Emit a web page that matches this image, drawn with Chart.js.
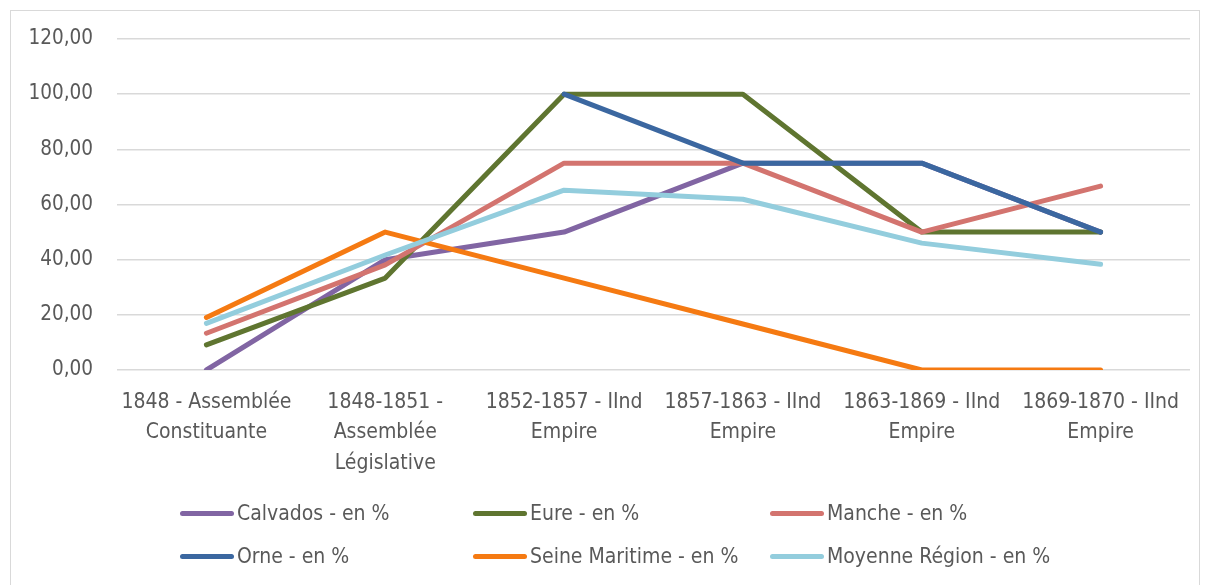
<!DOCTYPE html>
<html>
<head>
<meta charset="utf-8">
<script src="https://cdn.jsdelivr.net/npm/chart.js"></script>
<style>
  body { margin: 0; background: #fff; }
  #wrap { position: relative; width: 1209px; height: 585px; }
  #frame { position: absolute; left: 10px; top: 10px; width: 1190px; height: 580px; border: 1px solid #d9d9d9; box-sizing: border-box; }
  canvas { position: absolute; left: 0; top: 0; }
  #legend { position: absolute; left: 0; top: 0; width: 1209px; height: 585px; pointer-events: none;
    font-family: "Liberation Sans Narrow", "DejaVu Sans Condensed", sans-serif; font-size: 21px; color: #595959; }
  .item { position: absolute; display: flex; align-items: center; white-space: nowrap; }
  .swatch { width: 54px; height: 5px; border-radius: 3px; margin-right: 3px; }
</style>
</head>
<body>
<div id="wrap">
  <div id="frame"></div>
  <canvas id="chart" width="1209" height="585"></canvas>
  <div id="legend"></div>
</div>
<script>
document.addEventListener('DOMContentLoaded', function () {
    const categories = [
        ['1848 - Assemblée', 'Constituante'],
        ['1848-1851 -', 'Assemblée', 'Législative'],
        ['1852-1857 - IInd', 'Empire'],
        ['1857-1863 - IInd', 'Empire'],
        ['1863-1869 - IInd', 'Empire'],
        ['1869-1870 - IInd', 'Empire']
    ];

    const calvados = [0, 40, 50, 75, 75, 50];
    const eure = [9.09, 33.33, 100, 100, 50, 50];
    const manche = [13.33, 38.1, 75, 75, 50, 66.67];
    const orne = [null, null, 100, 75, 75, 50];
    const seineMaritime = [19.05, 50, 33.33, 16.67, 0, 0];
    const moyenneRegion = [16.9, 41.7, 65.2, 61.9, 46, 38.3];

    const seriesNames = ['Calvados - en %', 'Eure - en %', 'Manche - en %', 'Orne - en %', 'Seine Maritime - en %', 'Moyenne Région - en %'];
    const seriesColors = ['#8165A3', '#5F7530', '#D3746F', '#3B67A0', '#F57A12', '#93CDDD'];
    const seriesData = [calvados, eure, manche, orne, seineMaritime, moyenneRegion];

    const fontFamily = '"Liberation Sans Narrow", "DejaVu Sans Condensed", sans-serif';

    const datasets = seriesData.map((values, i) => ({
        label: seriesNames[i],
        data: values,
        borderColor: seriesColors[i],
        backgroundColor: seriesColors[i],
        borderWidth: 5,
        pointRadius: 0,
        tension: 0,
        borderCapStyle: 'round',
        borderJoinStyle: 'round',
        order: seriesData.length - i   // later series drawn on top, like Excel
    }));

    new Chart(document.getElementById('chart'), {
        type: 'line',
        data: { labels: categories, datasets: datasets },
        options: {
            responsive: false,
            animation: false,
            layout: { padding: { left: 10, right: 19, top: 39, bottom: 95 } },
            plugins: {
                legend: { display: false },
                tooltip: { enabled: false }
            },
            scales: {
                x: {
                    offset: true,
                    grid: { display: false },
                    border: { display: false },
                    ticks: {
                        color: '#595959',
                        font: { family: fontFamily, size: 21, lineHeight: 1.43 },
                        padding: 10,
                        maxRotation: 0,
                        autoSkip: false
                    },
                    afterFit: function (scale) { scale.height = 120; }
                },
                y: {
                    min: 0,
                    max: 120,
                    grid: { color: '#d9d9d9', lineWidth: 1.5, drawTicks: false },
                    border: { display: false },
                    ticks: {
                        stepSize: 20,
                        color: '#595959',
                        font: { family: fontFamily, size: 20.5 },
                        padding: 24,
                        callback: v => v.toFixed(2).replace('.', ',')
                    },
                    afterFit: function (scale) { scale.width = 107; }
                }
            }
        }
    });

    // legend laid out like the Excel grid: 3 columns, 2 rows
    const legend = document.getElementById('legend');
    const colX = [180, 473, 770];
    const rowY = [513, 556];
    seriesNames.forEach((name, i) => {
        const item = document.createElement('div');
        item.className = 'item';
        item.style.left = colX[i % 3] + 'px';
        item.style.top = (rowY[Math.floor(i / 3)] - 13) + 'px';
        item.style.height = '26px';
        const sw = document.createElement('span');
        sw.className = 'swatch';
        sw.style.background = seriesColors[i];
        const txt = document.createElement('span');
        txt.textContent = name;
        item.appendChild(sw);
        item.appendChild(txt);
        legend.appendChild(item);
    });
});
</script>
</body>
</html>
